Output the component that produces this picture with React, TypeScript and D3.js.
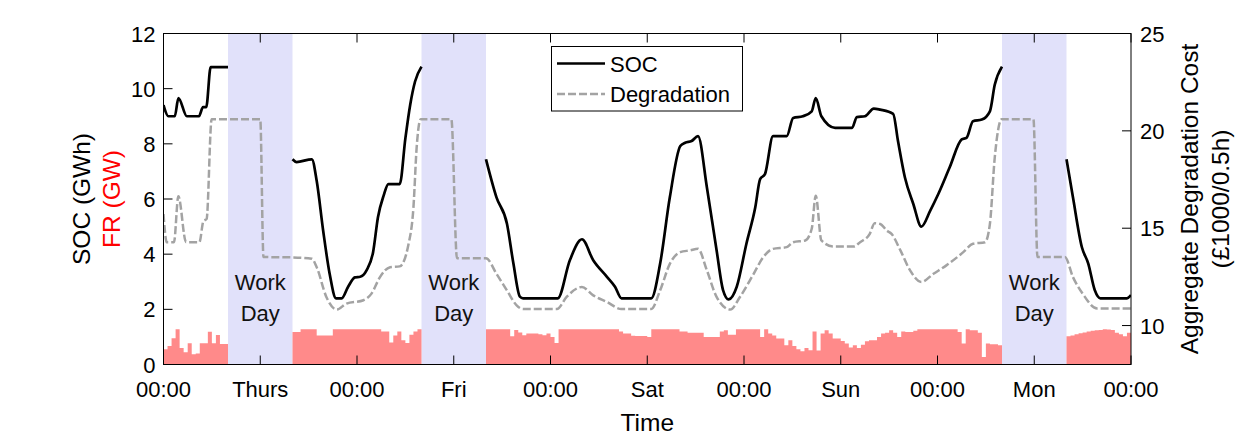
import React from "react";
import * as d3 from "d3";

// ---------- data ----------
const xTickHours = [0, 12, 24, 36, 48, 60, 72, 84, 96, 108, 120];
const xTickLabels = ["00:00", "Thurs", "00:00", "Fri", "00:00", "Sat", "00:00", "Sun", "00:00", "Mon", "00:00"];
const leftTicks = [0, 2, 4, 6, 8, 10, 12];
const rightTicks = [10, 15, 20, 25];
const workDayStart = [8, 32, 104];
const workDayEnd = [16, 40, 112];

// SOC (GWh): hours and values, null = no data (work day)
const socHours = [
  0, 0.6, 1.4, 1.85, 2.9, 4.4, 4.9, 5.3, 5.85, 8,
  12,
  16, 16.5, 18.4, 19.0, 19.8, 20.6, 21.4, 22.1, 22.9, 23.75, 24.4, 25.2, 26.0, 26.6, 27.3, 27.9, 29.3, 30.0, 30.6, 31.2, 32,
  36,
  40, 41.3, 42.6, 43.4, 44.2, 44.6, 48.9, 50.4, 51.9, 53.3, 55.0, 56.0, 56.8, 60.5, 61.6, 62.8, 64.1, 64.7, 65.5, 66.3,
  67.4, 68.6, 69.4, 70.1, 71.1, 72.3, 73.4, 74.0, 74.6, 75.6, 77.3, 78.1, 79.3, 80.4, 80.9, 81.6, 83.3, 85.4, 86.0, 87.0,
  88.1, 88.9, 90.5, 91.1, 91.96, 93.0, 94.0, 95.1, 96.1, 97.5, 99.0, 99.6, 100.4, 101.5, 102.5, 103.1, 104,
  108,
  112, 112.8, 113.9, 114.7, 115.5, 116.2, 119.5, 120,
];
const socValues: (number | null)[] = [
  9.4, 9.0, 9.0, 9.66, 9.0, 9.0, 9.33, 9.33, 10.78, 10.78,
  null,
  7.44, 7.34, 7.44, 6.66, 4.86, 3.3, 2.4, 2.4, 2.82, 3.16, 3.18, 3.42, 4.08, 5.34, 6.12, 6.54, 6.54, 8.2, 9.42, 10.26, 10.8,
  null,
  7.44, 6.06, 5.1, 3.66, 2.46, 2.4, 2.4, 3.78, 4.54, 3.78, 3.18, 2.82, 2.4, 2.4, 3.66, 6.06, 7.92, 8.04, 8.1, 8.28,
  6.42, 4.14, 2.7, 2.36, 2.82, 4.38, 5.7, 6.72, 6.9, 8.28, 8.28, 8.94, 9.0, 9.18, 9.66, 9.0, 8.58, 8.58, 8.97, 9.0,
  9.28, 9.24, 9.09, 8.1, 6.78, 5.82, 5.0, 5.58, 6.18, 7.14, 8.16, 8.22, 8.82, 8.88, 9.18, 10.14, 10.8,
  null,
  7.44, 6.06, 4.26, 3.66, 2.7, 2.4, 2.4, 2.52,
];

// Aggregate degradation cost (£1000/0.5h), right axis
const degHours = [
  0, 0.4, 1.3, 1.84, 2.8, 4.45, 4.95, 5.35, 5.97, 12.0, 12.4, 16, 18.4, 19.0, 20.2, 21.5, 22.7, 24.8, 25.8, 26.85,
  28.1, 29.3, 30.4, 31.0, 31.4, 31.9, 35.7, 36.4, 40.0, 41.3, 42.6, 43.8, 44.6, 48.8, 50.0, 51.9, 53.3, 55.0, 56.8,
  60.5, 61.6, 62.8, 64.1, 65.3, 66.3, 67.4, 68.6, 70.3, 71.5, 73.2, 74.4, 75.6, 77.3, 78.1, 79.6, 80.4, 80.9, 81.6,
  83.1, 85.6, 86.4, 87.6, 88.2, 88.9, 89.7, 90.3, 91.4, 92.6, 94.0, 95.5, 97.1, 99.2, 100.4, 101.9, 102.5, 103.1,
  103.96, 107.9, 108.4, 111.8, 112.8, 114.0, 115.8, 120,
];
const degValues = [
  15.73, 14.28, 14.28, 16.64, 14.28, 14.28, 15.36, 15.48, 20.6, 20.6, 13.52, 13.5, 13.43, 13.0, 11.47, 10.82, 11.13, 11.3, 11.64, 12.49,
  13.0, 13.04, 14.2, 16.07, 19.15, 20.6, 20.6, 13.46, 13.46, 12.66, 11.8, 11.04, 10.85, 10.85, 11.47, 11.98, 11.55, 11.21, 10.85,
  10.85, 11.81, 13.17, 13.77, 13.86, 13.94, 12.83, 11.47, 10.82, 11.47, 12.66, 13.52, 13.94, 14.03, 14.28, 14.37, 14.97, 16.67, 14.37,
  14.06, 14.06, 14.28, 14.71, 15.26, 15.22, 14.88, 14.71, 13.86, 12.83, 12.24, 12.66, 13.09, 13.77, 14.2, 14.28, 15.22, 18.63,
  20.6, 20.6, 13.52, 13.52, 12.49, 11.64, 10.87, 10.87,
];

// FR (GW), one value per half hour (240 periods)
const frDay1 = [0.55, 0.67, 0.95, 1.28, 0.6, 0.44, 0.77, 0.37, 0.4, 0.77, 0.77, 1.19, 0.77, 1.07, 0.74, 0.74];
const frWork1 = [0, 0, 0, 0, 0, 0, 0, 0, 0, 0, 0, 0, 0, 0, 0, 0];
const frDay2 = [
  1.18, 1.18, 1.28, 1.28, 1.28, 1.28, 1.05, 1.05, 1.05, 1.05, 1.28, 1.28, 1.28, 1.28, 1.28, 1.28,
  1.28, 1.28, 1.28, 1.28, 1.28, 1.28, 1.2, 1.2, 0.8, 1.05, 1.2, 0.88, 0.78, 1.08, 1.2, 1.28,
];
const frWork2 = [0, 0, 0, 0, 0, 0, 0, 0, 0, 0, 0, 0, 0, 0, 0, 0];
const frDay3 = [
  1.28, 1.28, 1.28, 1.28, 1.28, 1.28, 1.02, 1.25, 1.16, 1.06, 1.12, 1.12, 1.12, 1.1, 1.06, 1.12, 1.0, 0.78,
  1.28, 1.28, 1.28, 1.28, 1.28, 1.28, 1.28, 1.28, 1.28, 1.28, 1.28, 1.28, 1.28, 1.28, 1.28,
  1.2, 1.12, 1.12, 1.04, 1.03, 1.03, 1.03,
];
const frDay4 = [
  1.0, 1.28, 1.28, 1.28, 1.28, 1.28, 1.28, 1.28, 1.2, 1.2, 1.15, 1.15, 1.15, 1.15, 1.0, 1.0, 1.0, 1.0, 1.2, 1.24,
  1.08, 1.08, 1.28, 1.28, 1.28, 1.28, 1.28, 1.28, 1.0, 1.28, 1.12, 1.05, 0.94, 0.94, 0.7, 0.88, 0.67, 0.55, 0.48, 0.6,
  0.52, 1.2, 0.51, 1.12, 1.24, 1.12, 0.94, 0.94, 0.85, 0.76, 0.62, 0.7, 0.6, 0.72, 0.84, 0.88,
];
const frDay5 = [
  0.88, 1.0, 1.12, 1.15, 1.24, 1.15, 1.0, 1.2, 1.18, 1.18, 1.22,
  1.28, 1.28, 1.28, 1.28, 1.28, 1.28, 1.28, 1.28, 1.28, 1.28,
  1.18, 0.76, 1.28, 1.24, 1.24, 1.15, 0.27, 0.76, 0.73, 0.73, 0.7,
];
const frWork3 = [0, 0, 0, 0, 0, 0, 0, 0, 0, 0, 0, 0, 0, 0, 0, 0];
const frDay6 = [1.02, 1.05, 1.1, 1.13, 1.16, 1.2, 1.22, 1.24, 1.25, 1.28, 1.27, 1.25, 1.15, 1.1, 1.02, 1.15];
const frValues = [...frDay1, ...frWork1, ...frDay2, ...frWork2, ...frDay3, ...frDay4, ...frDay5, ...frWork3, ...frDay6];

// ---------- layout ----------
const W = 1250;
const H = 438;
const L = 163.5;
const R = 1131;
const T = 33.5;
const B = 364.5;
const FONT = "Liberation Sans, Arial, Helvetica, sans-serif";

export default function App() {
  const x = d3.scaleLinear().domain([0, 120]).range([L, R]);
  const yL = d3.scaleLinear().domain([0, 12]).range([B, T]);
  const yR = d3.scaleLinear().domain([8, 25]).range([B, T]);

  const frPts: [number, number][] = frValues.map((v, i) => [i * 0.5, v]);
  frPts.push([120, frValues[frValues.length - 1]]);
  const frArea = d3
    .area<[number, number]>()
    .x((d) => x(d[0]))
    .y0(yL(0))
    .y1((d) => yL(d[1]))
    .curve(d3.curveStepAfter)(frPts) as string;

  const socPts = socHours.map((h, i) => ({ h, v: socValues[i] }));
  const socPath = d3
    .line<{ h: number; v: number | null }>()
    .defined((d) => d.v !== null)
    .x((d) => x(d.h))
    .y((d) => yL(d.v as number))
    .curve(d3.curveMonotoneX)(socPts) as string;

  const degPts = degHours.map((h, i) => ({ h, v: degValues[i] }));
  const degPath = d3
    .line<{ h: number; v: number }>()
    .x((d) => x(d.h))
    .y((d) => yR(d.v))
    .curve(d3.curveMonotoneX)(degPts) as string;

  const tickLen = 9;
  const tickFs = 22;
  const labelFs = 24.5;

  return (
    <svg
      width={W}
      height={H}
      viewBox={`0 0 ${W} ${H}`}
      style={{ position: "absolute", left: 0, top: 0, background: "#fff" }}
      fontFamily={FONT}
    >
      <rect x={0} y={0} width={W} height={H} fill="#fff" />
      <defs>
        <clipPath id="plot">
          <rect x={L} y={T} width={R - L} height={B - T} />
        </clipPath>
      </defs>

      {/* work day shading */}
      {workDayStart.map((s, i) => (
        <rect key={"wd" + i} x={x(s)} y={T} width={x(workDayEnd[i]) - x(s)} height={B - T} fill="#e1e1fa" />
      ))}

      {/* FR bars */}
      <path d={frArea} fill="#ff8a8a" stroke="none" clipPath="url(#plot)" />

      {/* work day labels */}
      {workDayStart.map((s, i) => {
        const cx = (x(s) + x(workDayEnd[i])) / 2;
        return (
          <g key={"wdt" + i} fontSize={tickFs} fill="#111" textAnchor="middle">
            <text x={cx} y={290}>Work</text>
            <text x={cx} y={321}>Day</text>
          </g>
        );
      })}

      {/* lines */}
      <g clipPath="url(#plot)">
        <path d={degPath} fill="none" stroke="#a3a3a3" strokeWidth={2.5} strokeDasharray="8,3" />
        <path d={socPath} fill="none" stroke="#000" strokeWidth={2.7} strokeLinejoin="round" />
      </g>

      {/* frame */}
      <rect x={L} y={T} width={R - L} height={B - T} fill="none" stroke="#000" strokeWidth={1} />

      {/* x ticks */}
      {xTickHours.map((h, i) => (
        <g key={"xt" + i}>
          <line x1={x(h)} x2={x(h)} y1={B} y2={B - tickLen} stroke="#000" strokeWidth={1} />
          <line x1={x(h)} x2={x(h)} y1={T} y2={T + tickLen} stroke="#000" strokeWidth={1} />
          <text x={x(h)} y={B + 32} fontSize={tickFs} textAnchor="middle" fill="#000">
            {xTickLabels[i]}
          </text>
        </g>
      ))}

      {/* left ticks */}
      {leftTicks.map((v) => (
        <g key={"lt" + v}>
          <line x1={L} x2={L + tickLen} y1={yL(v)} y2={yL(v)} stroke="#000" strokeWidth={1} />
          <text x={L - 8} y={yL(v) + 8} fontSize={tickFs} textAnchor="end" fill="#000">
            {v}
          </text>
        </g>
      ))}

      {/* right ticks */}
      {rightTicks.map((v) => (
        <g key={"rt" + v}>
          <line x1={R} x2={R - tickLen} y1={yR(v)} y2={yR(v)} stroke="#000" strokeWidth={1} />
          <text x={R + 9} y={yR(v) + 8} fontSize={tickFs} textAnchor="start" fill="#000">
            {v}
          </text>
        </g>
      ))}

      {/* axis labels */}
      <text x={(L + R) / 2} y={431} fontSize={labelFs} textAnchor="middle" fill="#000">
        Time
      </text>
      <g transform={`translate(90, ${(T + B) / 2}) rotate(-90)`} fontSize={labelFs} textAnchor="middle">
        <text x={0} y={0} fill="#000">SOC (GWh)</text>
        <text x={0} y={30} fill="#ff0000">FR (GW)</text>
      </g>
      <g transform={`translate(1198, ${(T + B) / 2}) rotate(-90)`} fontSize={labelFs} textAnchor="middle" fill="#000">
        <text x={0} y={0}>Aggregate Degradation Cost</text>
        <text x={0} y={31}>(£1000/0.5h)</text>
      </g>

      {/* legend */}
      <g>
        <rect x={551.5} y={46.5} width={191} height={64.5} fill="#fff" stroke="#000" strokeWidth={1} />
        <line x1={557} x2={605} y1={63.5} y2={63.5} stroke="#000" strokeWidth={2.7} />
        <text x={610} y={71.5} fontSize={tickFs} fill="#000">SOC</text>
        <line x1={557} x2={605} y1={94} y2={94} stroke="#a3a3a3" strokeWidth={2.5} strokeDasharray="8,3" />
        <text x={610} y={102} fontSize={tickFs} fill="#000">Degradation</text>
      </g>
    </svg>
  );
}
